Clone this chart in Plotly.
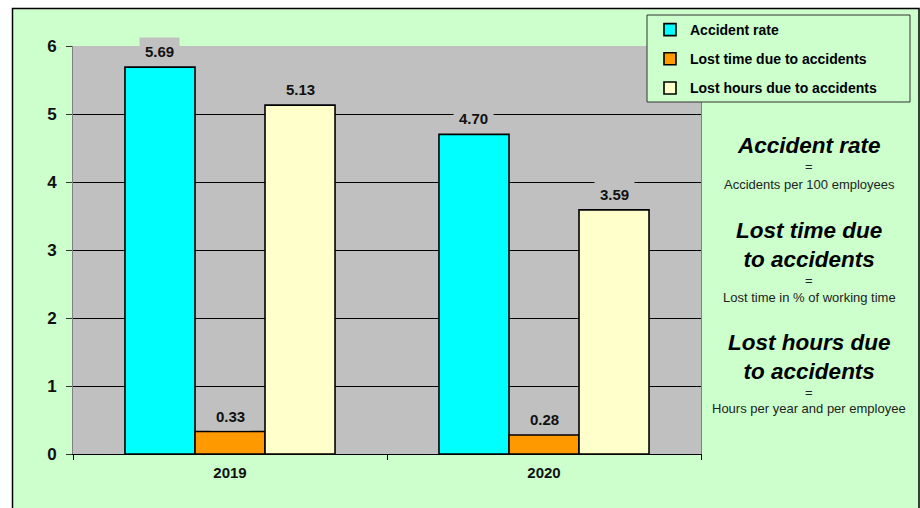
import plotly.graph_objects as go

# ---- data ----
years = ["2019", "2020"]
accident_rate = [5.69, 4.70]
lost_time = [0.33, 0.28]
lost_hours = [5.13, 3.59]

series_names = ["Accident rate", "Lost time due to accidents", "Lost hours due to accidents"]
series_values = [accident_rate, lost_time, lost_hours]
series_colors = ["#00FFFF", "#FF9900", "#FFFFCC"]

y_ticks = [0, 1, 2, 3, 4, 5, 6]

notes = [
    ("Accident rate", "Accidents per 100 employees"),
    ("Lost time due<br>to accidents", "Lost time in % of working time"),
    ("Lost hours due<br>to accidents", "Hours per year and per employee"),
]

# ---- layout geometry (pixels) ----
W, H = 920, 508
PL, PR, PT, PB = 73, 701, 46, 454          # plot area edges
FONT = "Liberation Sans, Arial, sans-serif"
GREEN = "#CCFFCC"
GREY = "#C0C0C0"
BARGAP = 0.331


def px(x):
    return (x - PL) / (PR - PL)


def py(y):
    return (PB - y) / (PB - PT)


fig = go.Figure()

for i, (name, vals, col) in enumerate(zip(series_names, series_values, series_colors)):
    fig.add_trace(go.Bar(
        x=years, y=vals, name=name,
        marker=dict(color=col, line=dict(color="black", width=1.6)),
        legendgroup=f"g{i}",
        hoverinfo="x+y+name",
    ))

# value labels above each bar (grey box like the plot background)
bar_w = (1 - BARGAP) / len(series_values)
for k, vals in enumerate(series_values):
    off = (k - (len(series_values) - 1) / 2) * bar_w
    for j, v in enumerate(vals):
        fig.add_annotation(
            x=j + off, y=v, xref="x", yref="y",
            text=f"<b>{v:.2f}</b>", showarrow=False,
            yanchor="bottom", xanchor="center", yshift=1,
            bgcolor=GREY, borderpad=5,
            font=dict(family=FONT, size=15, color="#111111"),
        )

# explanatory notes on the right
cx = px(809)
title_y = [145, 244.5, 356.5]
eq_y = [166, 280, 392]
desc_y = [184, 297, 408]
for (title, desc), ty, ey, dy in zip(notes, title_y, eq_y, desc_y):
    fig.add_annotation(x=cx, y=py(ty), xref="paper", yref="paper",
                       text=f"<b><i>{title}</i></b>", showarrow=False,
                       xanchor="center", yanchor="middle",
                       font=dict(family=FONT, size=22.5, color="black"))
    fig.add_annotation(x=cx, y=py(ey), xref="paper", yref="paper",
                       text="=", showarrow=False,
                       xanchor="center", yanchor="middle",
                       font=dict(family=FONT, size=13, color="#222222"))
    fig.add_annotation(x=cx, y=py(dy), xref="paper", yref="paper",
                       text=desc, showarrow=False,
                       xanchor="center", yanchor="middle",
                       font=dict(family=FONT, size=13, color="#222222"))

# white margin strips, chart frame and legend frame
shapes = [
    dict(type="rect", xref="paper", yref="paper", x0=px(-5), x1=px(12), y0=py(-5), y1=py(W),
         fillcolor="white", line=dict(width=0), layer="below"),
    dict(type="rect", xref="paper", yref="paper", x0=px(-5), x1=px(W + 5), y0=py(-5), y1=py(8),
         fillcolor="white", line=dict(width=0), layer="below"),
    dict(type="rect", xref="paper", yref="paper", x0=px(12.5), x1=px(919), y0=py(8.5), y1=py(520),
         fillcolor="rgba(0,0,0,0)", line=dict(color="black", width=1.5)),
    dict(type="rect", xref="paper", yref="paper", x0=px(647), x1=px(910), y0=py(15), y1=py(102),
         fillcolor=GREEN, line=dict(color="#333333", width=1)),
]

fig.update_layout(
    width=W, height=H,
    margin=dict(l=PL, r=W - PR, t=PT, b=H - PB, pad=0),
    paper_bgcolor=GREEN, plot_bgcolor=GREY,
    barmode="group", bargap=BARGAP, bargroupgap=0,
    font=dict(family=FONT, color="black"),
    shapes=shapes,
    showlegend=True,
    legend=dict(
        x=px(650), y=py(14), xanchor="left", yanchor="top",
        bgcolor="rgba(0,0,0,0)", borderwidth=0,
        font=dict(family=FONT, size=14, color="black", weight="bold"),
        tracegroupgap=8, traceorder="grouped",
    ),
    xaxis=dict(
        type="category", showgrid=False,
        showline=True, linecolor="black", linewidth=1,
        ticks="outside", tickson="boundaries", ticklen=5, tickcolor="black",
        tickfont=dict(family=FONT, size=15, weight="bold", color="#111111"),
        ticklabelstandoff=5,
    ),
    yaxis=dict(
        range=[0, 6], tickvals=y_ticks, ticktext=[str(t) for t in y_ticks],
        showgrid=True, gridcolor="black", gridwidth=1,
        zeroline=False,
        showline=True, linecolor="#808080", linewidth=1, mirror=True,
        ticks="outside", ticklen=6, tickcolor="#333333",
        tickfont=dict(family=FONT, size=17, weight="bold", color="#111111"),
        ticklabelstandoff=6,
    ),
)

fig.write_html("out.html")
